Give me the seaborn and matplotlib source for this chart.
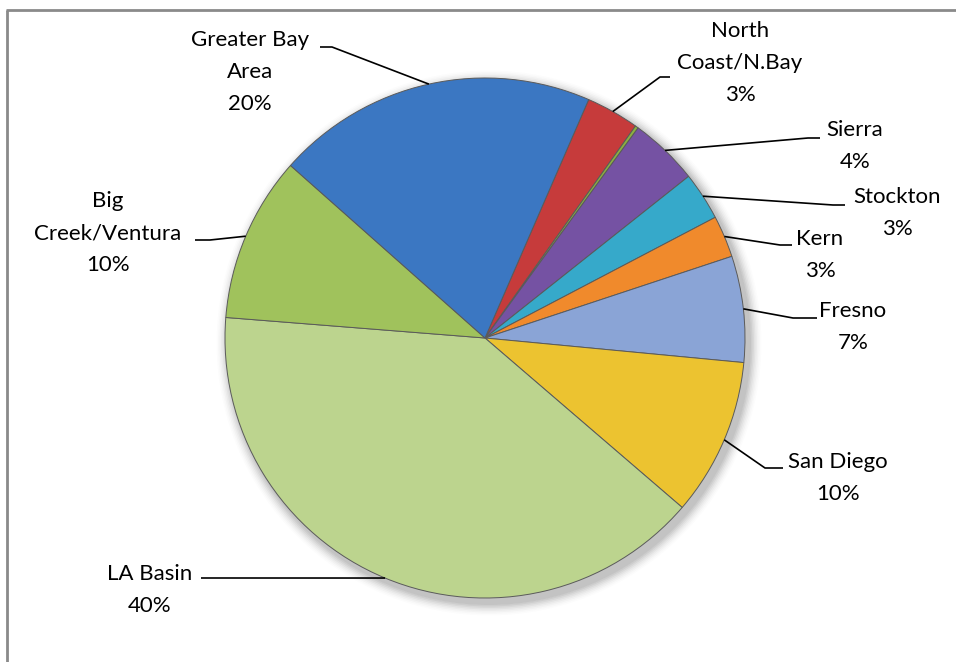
import matplotlib
matplotlib.use("Agg")
import matplotlib.pyplot as plt
import seaborn as sns
import numpy as np
from matplotlib.patches import Circle

# ---- data (clockwise order, starting after Greater Bay Area) ----
regions = ["North Coast/N.Bay", "Other", "Sierra", "Stockton", "Kern",
           "Fresno", "San Diego", "LA Basin", "Big Creek/Ventura", "Greater Bay Area"]
shares = [3.3, 0.2, 4.3, 3.0, 2.6, 6.6, 9.8, 40.0, 10.3, 20.0]
label_texts = ["North\nCoast/N.Bay\n3%", None, "Sierra\n4%", "Stockton\n3%", "Kern\n3%",
               "Fresno\n7%", "San Diego\n10%", "LA Basin\n40%", "Big\nCreek/Ventura\n10%",
               "Greater Bay\nArea\n20%"]
colors = ["#c63b3b", "#8cb040", "#7552a3", "#36a9ca", "#f08a2c",
          "#8aa4d6", "#ecc330", "#bcd48e", "#a0c25c", "#3b77c2"]

# ---- layout (pixel coordinates, y from top) ----
W, H = 956, 662
label_pos = [(740, 63), None, (855, 146), (897, 213), (820, 255),
             (853, 327), (838, 478), (150, 590), (108, 233), (250, 72)]
stubs = [((670, 77), (660, 77)), None, ((820, 138), (808, 138)), ((845, 205), (833, 205)),
         ((792, 245), (780, 245)), ((817, 318), (793, 318)), ((783, 468), (765, 468)),
         ((201, 578), (213, 578)), ((195, 240), (210, 240)), ((320, 47), (332, 47))]

sns.set_theme(style="white")
plt.rcParams['font.family'] = ['Lato', 'DejaVu Sans']

fig = plt.figure(figsize=(W / 100, H / 100), dpi=100)
ax = fig.add_axes([0, 0, 1, 1])

cx, cy, R = 485, H - 338, 260

# soft shadow
for i, a in enumerate(np.linspace(0.05, 0.012, 8)):
    ax.add_patch(Circle((cx + 4, cy - 5), R + 2 + i * 1.5, color="black", alpha=a, lw=0, zorder=0))

wedges, _ = ax.pie(shares, colors=colors, startangle=90 - 23.5, counterclock=False,
                   center=(cx, cy), radius=R, frame=True,
                   wedgeprops=dict(edgecolor="#5a5a5a", linewidth=0.7))
for w in wedges:
    w.set_zorder(2)

# labels and leader lines
for w, txt, pos, stub in zip(wedges, label_texts, label_pos, stubs):
    if txt is None:
        continue
    mid = np.deg2rad((w.theta1 + w.theta2) / 2)
    ex, ey = cx + R * np.cos(mid), cy + R * np.sin(mid)
    (sx0, sy0), (sx1, sy1) = stub
    ax.plot([sx0, sx1, ex], [H - sy0, H - sy1, ey], color="black", lw=1.2, zorder=3,
            solid_capstyle="butt")
    ax.text(pos[0], H - pos[1], txt, ha="center", va="center", fontsize=16,
            linespacing=1.75, color="black", zorder=4)

# frame lines (top and left)
ax.plot([7.5, 7.5], [0, H - 10], color="#8a8a8a", lw=2, zorder=5, solid_capstyle="butt")
ax.plot([6.5, W], [H - 10, H - 10], color="#8a8a8a", lw=2, zorder=5, solid_capstyle="butt")

ax.set_xlim(0, W)
ax.set_ylim(0, H)
ax.set_aspect("equal")
ax.axis("off")

fig.savefig("out.png", dpi=100, facecolor="white")
